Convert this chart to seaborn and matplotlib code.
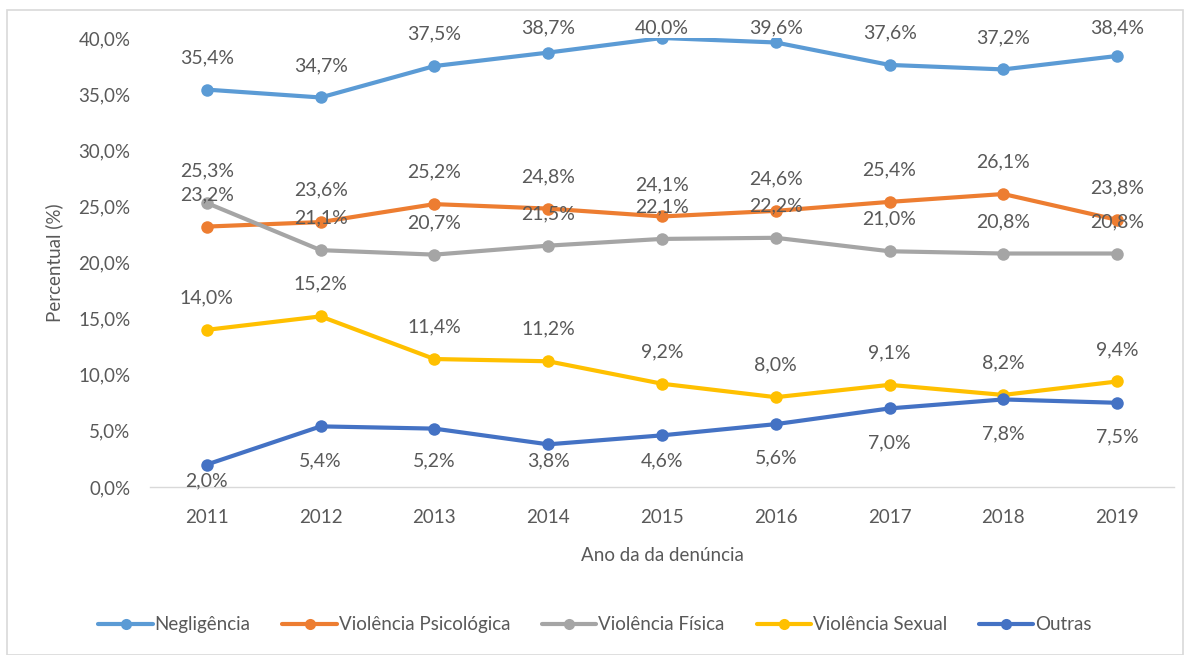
import pandas as pd
import numpy as np
import matplotlib
matplotlib.use('Agg')
import matplotlib.pyplot as plt
import seaborn as sns
from matplotlib.ticker import FuncFormatter
from matplotlib.patches import Rectangle
from matplotlib.lines import Line2D

sns.set_style('white')
plt.rcParams['font.family'] = ['Lato', 'DejaVu Sans']

# dados
anos = [2011, 2012, 2013, 2014, 2015, 2016, 2017, 2018, 2019]
negligencia = [35.4, 34.7, 37.5, 38.7, 40.0, 39.6, 37.6, 37.2, 38.4]
psicologica = [23.2, 23.6, 25.2, 24.8, 24.1, 24.6, 25.4, 26.1, 23.8]
fisica = [25.3, 21.1, 20.7, 21.5, 22.1, 22.2, 21.0, 20.8, 20.8]
sexual = [14.0, 15.2, 11.4, 11.2, 9.2, 8.0, 9.1, 8.2, 9.4]
outras = [2.0, 5.4, 5.2, 3.8, 4.6, 5.6, 7.0, 7.8, 7.5]

tipos = ['Negligência', 'Violência Psicológica', 'Violência Física',
         'Violência Sexual', 'Outras']
cores = ['#5B9BD5', '#ED7D31', '#A5A5A5', '#FFC000', '#4472C4']
series = [negligencia, psicologica, fisica, sexual, outras]

df = pd.DataFrame({
    'ano': anos * len(tipos),
    'valor': sum(series, []),
    'tipo': np.repeat(tipos, len(anos)),
})

txt = '#595959'
W, H = 1190, 655
fig = plt.figure(figsize=(11.9, 6.55), dpi=100)
ax = fig.add_axes([0.126, 0.2565, 0.8606, 0.6855])

sns.lineplot(data=df, x='ano', y='valor', hue='tipo', hue_order=tipos,
             palette=cores, marker='o', markersize=9, markeredgewidth=0,
             linewidth=3, ax=ax, legend=False)

ax.set_xlim(2010.5, 2019.5)
ax.set_ylim(0, 40)

def pct(v, pos=None):
    return f'{v:.1f}%'.replace('.', ',')

# rotulos de dados: acima, exceto "Outras" abaixo
# como no Excel, os rotulos ficam dentro da area do grafico
px2pt = 72 / fig.dpi
topo_px = H - 28       # centro maximo do rotulo (px a partir de baixo)
base_px = H - 461      # centro minimo do rotulo abaixo do ponto
for tipo, vals in zip(tipos, series):
    for a, v in zip(anos, vals):
        py = ax.transData.transform((a, v))[1]
        if tipo == 'Outras':
            cy = py - 34
            if cy < base_px:
                cy = base_px if base_px < py - 12 else py - 16
        else:
            cy = min(py + 32, topo_px)
        ax.annotate(pct(v), (a, v), xytext=(0, (cy - py) * px2pt),
                    textcoords='offset points', ha='center', va='center',
                    fontsize=14, color=txt, annotation_clip=False)

ax.set_xticks(anos)
ax.set_yticks(np.arange(0, 41, 5))
ax.yaxis.set_major_formatter(FuncFormatter(pct))
ax.tick_params(axis='both', length=0, labelsize=13.5, colors=txt)
ax.tick_params(axis='x', pad=16)
ax.tick_params(axis='y', pad=14)
for s in ['top', 'right', 'left']:
    ax.spines[s].set_visible(False)
ax.spines['bottom'].set_color('#d9d9d9')
ax.spines['bottom'].set_linewidth(1)
ax.set_xlabel('Ano da da denúncia', fontsize=13.5, color=txt, labelpad=15)
ax.set_ylabel('Percentual (%)', fontsize=13.5, color=txt, labelpad=11)

handles = [Line2D([0], [0], color=c, lw=3, marker='o', markersize=8, markeredgewidth=0)
           for c in cores]
fig.legend(handles, tipos, loc='center', bbox_to_anchor=(0.5, 0.046), ncol=5,
           frameon=False, fontsize=13.5, labelcolor=txt, handlelength=2.9,
           handletextpad=0.1, columnspacing=1.7)

fig.patches.append(Rectangle((0.006, 0.0), 0.988, 0.985, transform=fig.transFigure,
                             fill=False, edgecolor='#d9d9d9', linewidth=1.2))

fig.savefig('out.png', dpi=100)
